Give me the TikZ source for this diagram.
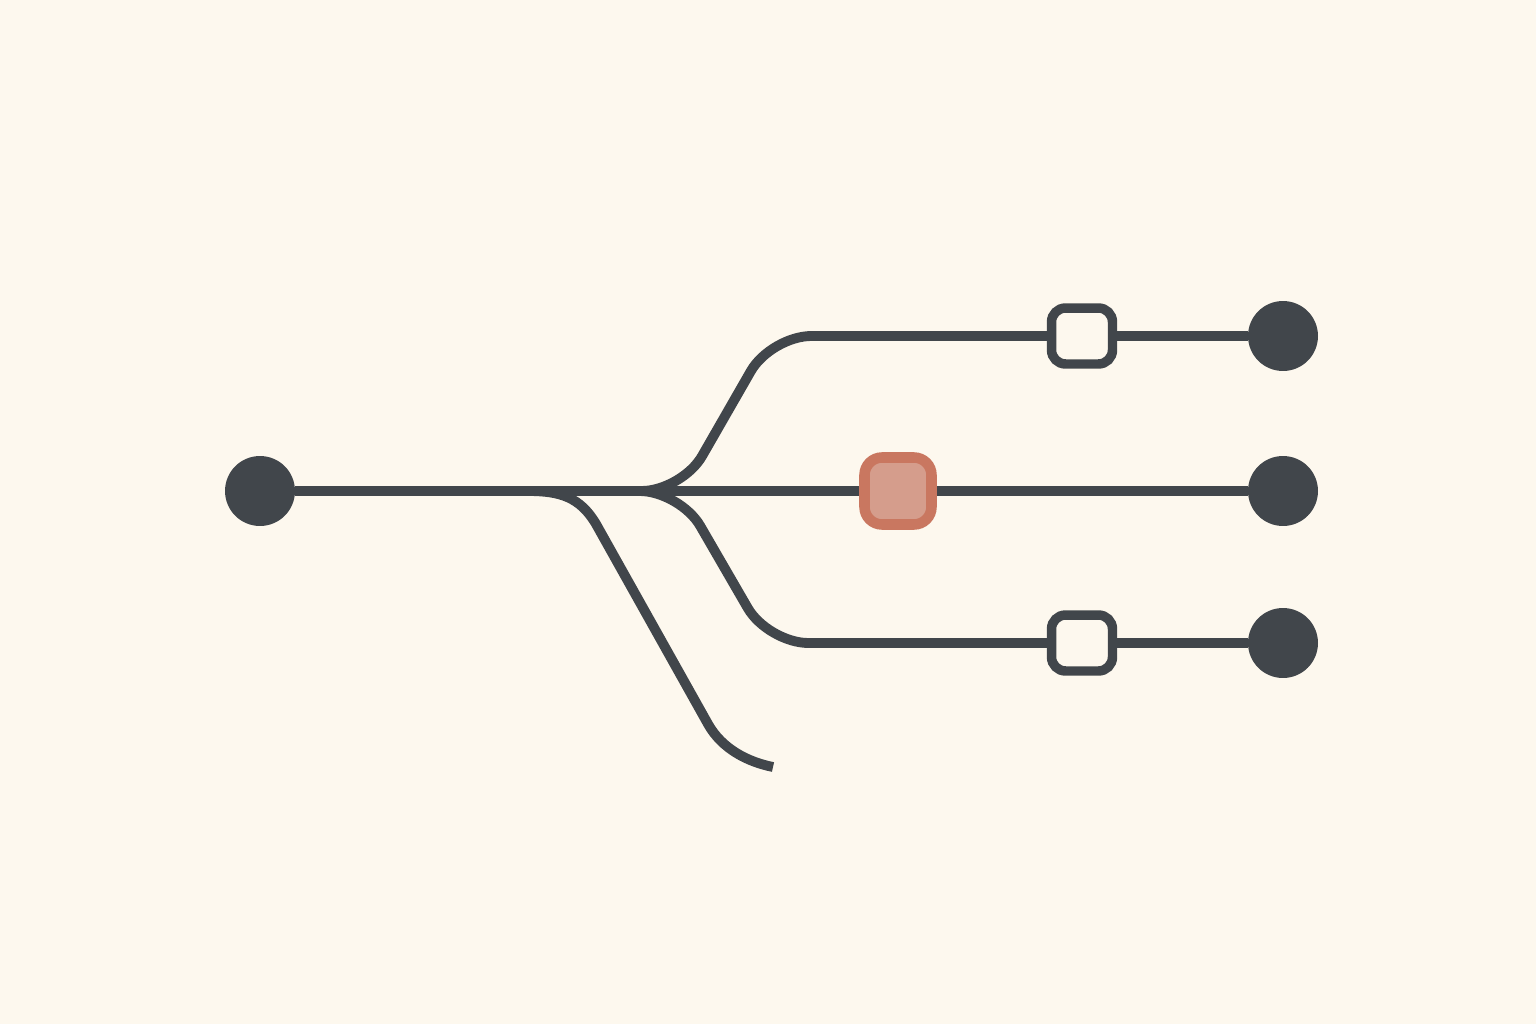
\documentclass[tikz,border=0pt]{standalone}
\usetikzlibrary{positioning}
\definecolor{paper}{HTML}{FDF8EE}
\definecolor{ink}{HTML}{41464B}
\definecolor{rust}{HTML}{C97760}
\definecolor{blush}{HTML}{D59D8C}
\tikzset{
    wire/.style={ink,line width=5.6pt},
    dot/.style={circle,fill=ink,inner sep=0pt,minimum size=1.4cm},
    gate/.style={draw=ink,fill=paper,line width=5.4pt,rounded corners=8pt,inner sep=0pt,minimum width=1.22cm,minimum height=1.12cm},
    hot/.style={draw=rust,fill=blush,line width=6pt,rounded corners=10pt,inner sep=0pt,minimum size=1.34cm}
}
\begin{document}
\begin{tikzpicture}[x=0.02cm,y=-0.02cm]
        \fill [paper] (0,0) rectangle (1536,1024);
        \useasboundingbox (0,0) rectangle (1536,1024);
        % end points
        \node [dot] (src) at (260,491) {};
        \node [dot] (top) at (1283,336) {};
        \node [dot] (mid) at (1283,491) {};
        \node [dot] (bot) at (1283,643) {};
        % gates
        \node [gate] (gtop) at (1082,336) {};
        \node [gate] (gbot) at (1082,643) {};
        \node [hot] (hub) at (898,491) {};
        % split points on the trunk
        \coordinate (stem) at (528,491);
        \coordinate (fork) at (610,491);
        \coordinate (tail) at (773,767);
        % trunk
        \draw [wire] (src) -- (hub) -- (mid);
        % upper branch
        \draw [wire,rounded corners=23pt] (fork) -- (682,491) -- (771,336) [rounded corners=17pt] -- (gtop.west);
        \draw [wire] (gtop) -- (top);
        % lower branch
        \draw [wire,rounded corners=23pt] (fork) -- (680,491) -- (768,643) [rounded corners=17pt] -- (gbot.west);
        \draw [wire] (gbot) -- (bot);
        % loose branch
        \draw [wire] (stem) .. controls (560,491) and (580,497) .. (596,524)
            -- (708,724) .. controls (722,749) and (748,762) .. (tail);
    \end{tikzpicture}
\end{document}
